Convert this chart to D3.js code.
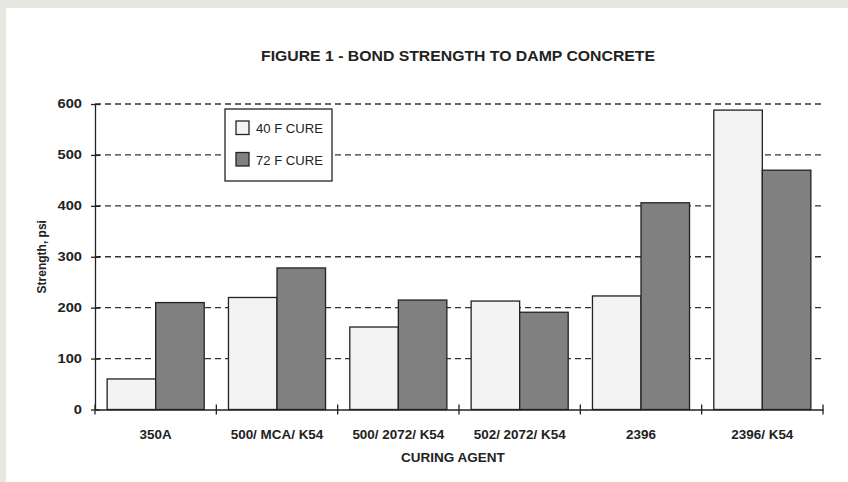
<!DOCTYPE html>
<html>
<head>
<meta charset="utf-8">
<script src="https://cdn.jsdelivr.net/npm/d3@7"></script>
<style>
  html, body { margin: 0; padding: 0; background: #e9e7e1; }
  svg { display: block; }
  text { font-family: "Liberation Sans", Arial, sans-serif; fill: #222; }
</style>
</head>
<body>
<svg id="chart" width="848" height="482"></svg>
<script>
const categories = ["350A", "500/ MCA/ K54", "500/ 2072/ K54", "502/ 2072/ K54", "2396", "2396/ K54"];
const seriesNames = ["40 F CURE", "72 F CURE"];
const cure40 = [60, 220, 162, 213, 223, 588];
const cure72 = [210, 278, 215, 191, 406, 470];
const yTicks = [0, 100, 200, 300, 400, 500, 600];
const titleText = "FIGURE 1 - BOND STRENGTH TO DAMP CONCRETE";
const xTitle = "CURING AGENT";
const yTitle = "Strength, psi";
const colors = ["#f3f3f3", "#808080"];

const svg = d3.select("#chart");
svg.append("rect").attr("x", 6).attr("y", 8).attr("width", 842).attr("height", 474).attr("fill", "#fff");

const mLeft = 95, mRight = 823, mTop = 104, mBottom = 409.5;

function widen(sel, factor) {
  sel.each(function () {
    const w = this.getComputedTextLength();
    d3.select(this).attr("textLength", w * factor).attr("lengthAdjust", "spacingAndGlyphs");
  });
}

const x = d3.scaleBand().domain(categories).range([mLeft, mRight]).paddingInner(0.2).paddingOuter(0.1);
const xs = d3.scaleBand().domain(seriesNames).range([0, x.bandwidth()]);
const y = d3.scaleLinear().domain([0, 600]).range([mBottom, mTop]);

// gridlines
svg.append("g").selectAll("line").data(yTicks.filter(d => d > 0)).join("line")
  .attr("x1", mLeft).attr("x2", mRight - 1)
  .attr("y1", d => y(d)).attr("y2", d => y(d))
  .attr("stroke", "#333").attr("stroke-width", 1.3).attr("stroke-dasharray", "6,4");

// bars
const data = categories.map((c, i) => ({ c, vals: [cure40[i], cure72[i]] }));
const groups = svg.append("g").selectAll("g").data(data).join("g")
  .attr("transform", d => `translate(${x(d.c)},0)`);
groups.selectAll("rect").data(d => d.vals.map((v, j) => ({ v, s: seriesNames[j], j }))).join("rect")
  .attr("x", d => xs(d.s))
  .attr("width", xs.bandwidth())
  .attr("y", d => y(d.v))
  .attr("height", d => y(0) - y(d.v))
  .attr("fill", d => colors[d.j])
  .attr("stroke", "#222").attr("stroke-width", 1.3);

// y axis
const yAxis = d3.axisLeft(y).tickValues(yTicks).tickSize(0).tickPadding(13);
const gy = svg.append("g").attr("transform", `translate(${mLeft},0)`).call(yAxis);
gy.select(".domain").attr("stroke", "#222").attr("stroke-width", 1.3);
gy.selectAll("text").attr("font-size", 12).attr("font-weight", "bold").attr("fill", "#333")
  .attr("font-family", "Liberation Sans, Arial");
widen(gy.selectAll("text"), 1.22);
gy.selectAll(".tick").append("line").attr("x1", -4).attr("x2", 5).attr("stroke", "#222").attr("stroke-width", 1.3);

// x axis
const xAxis = d3.axisBottom(x).tickSize(0).tickPadding(21);
const gx = svg.append("g").attr("transform", `translate(0,${mBottom})`).call(xAxis);
gx.select(".domain").attr("stroke", "#222").attr("stroke-width", 1.3);
gx.selectAll("text").attr("font-size", 12).attr("font-weight", "bold").attr("fill", "#333")
  .attr("font-family", "Liberation Sans, Arial");
widen(gx.selectAll("text"), 1.12);
const bounds = d3.range(categories.length + 1).map(i => mLeft + i * x.step());
gx.selectAll(".btick").data(bounds).join("line").attr("class", "btick")
  .attr("x1", d => d).attr("x2", d => d).attr("y1", -5).attr("y2", 5)
  .attr("stroke", "#222").attr("stroke-width", 1.3);

// title
svg.append("text").attr("x", 458).attr("y", 61).attr("text-anchor", "middle")
  .attr("font-size", 15.5).attr("font-weight", "bold")
  .attr("textLength", 394).attr("lengthAdjust", "spacingAndGlyphs")
  .text(titleText);

// axis titles
const xt = svg.append("text").attr("x", 453).attr("y", 462).attr("text-anchor", "middle")
  .attr("font-size", 12.5).attr("font-weight", "bold").text(xTitle);
widen(xt, 1.08);
svg.append("text").attr("transform", `translate(46,${(mTop + mBottom) / 2}) rotate(-90)`).attr("text-anchor", "middle")
  .attr("font-size", 12).attr("font-weight", "bold").text(yTitle);

// legend
const lg = svg.append("g").attr("transform", "translate(225,109)");
lg.append("rect").attr("width", 107).attr("height", 72).attr("fill", "#fff").attr("stroke", "#222").attr("stroke-width", 1.3);
seriesNames.forEach((s, i) => {
  lg.append("rect").attr("x", 11).attr("y", 12 + i * 31.5).attr("width", 13).attr("height", 13.5)
    .attr("fill", colors[i]).attr("stroke", "#222").attr("stroke-width", 1.3);
  lg.append("text").attr("x", 31).attr("y", 24 + i * 31.5).attr("font-size", 13)
    .attr("textLength", 67).attr("lengthAdjust", "spacingAndGlyphs")
    .attr("fill", "#222").text(s);
});
</script>
</body>
</html>
